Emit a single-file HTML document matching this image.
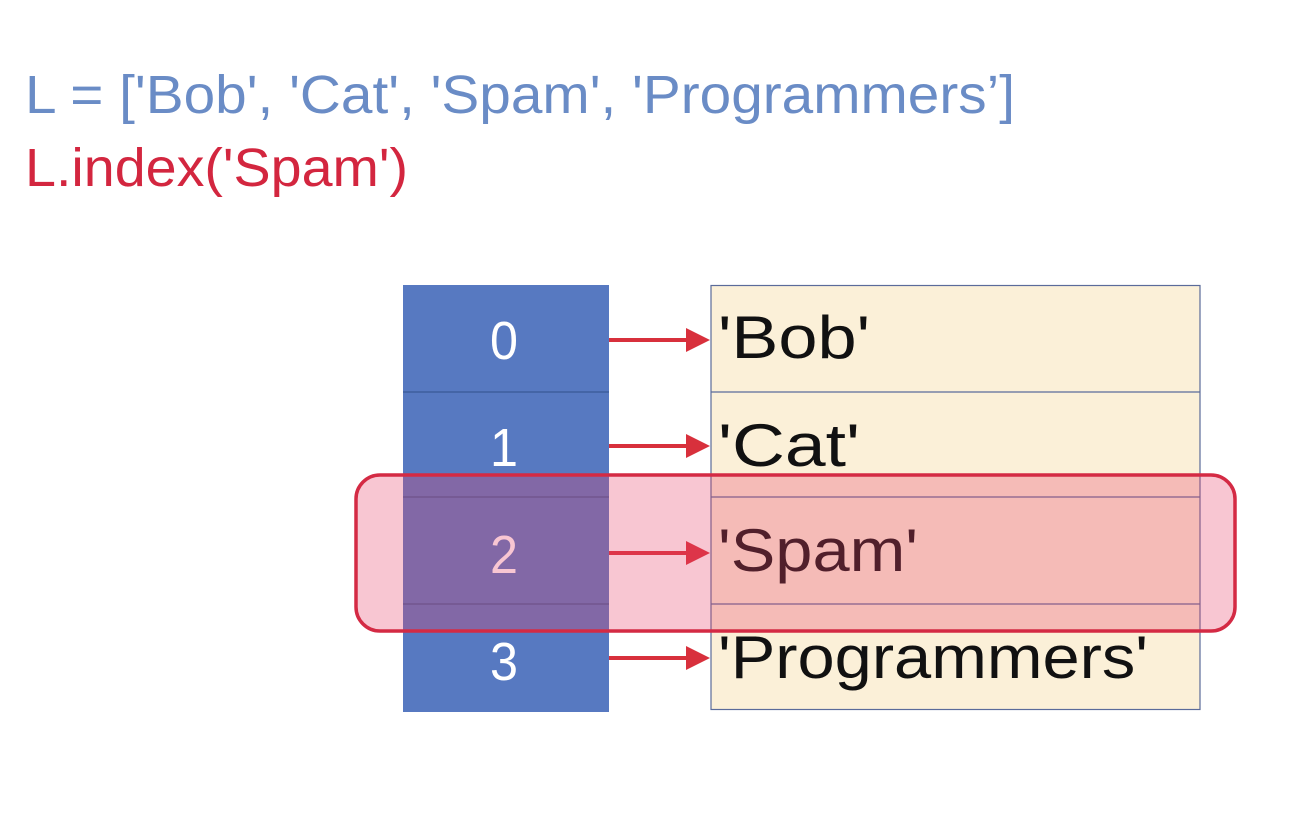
<!DOCTYPE html>
<html><head><style>html,body{margin:0;padding:0;background:#fff;}svg{display:block}</style></head>
<body>
<svg width="1306" height="836" viewBox="0 0 1306 836" xmlns="http://www.w3.org/2000/svg" font-family="Liberation Sans, sans-serif">
<rect width="1306" height="836" fill="#fff"/>
<text x="25" y="113" font-size="54" fill="#6a8cc6" textLength="990" lengthAdjust="spacingAndGlyphs">L = ['Bob', 'Cat', 'Spam', 'Programmers’]</text>
<text x="25" y="186" font-size="54" fill="#d3263f" textLength="383" lengthAdjust="spacingAndGlyphs">L.index('Spam')</text>
<rect x="403" y="285" width="206" height="427" fill="#5779c1"/>
<g stroke="#3f5f9e" stroke-width="1.5">
<line x1="403" y1="392" x2="609" y2="392"/><line x1="403" y1="497" x2="609" y2="497"/><line x1="403" y1="604" x2="609" y2="604"/>
</g>
<rect x="711" y="285.5" width="489" height="424" fill="#fbf0d8" stroke="#5a6b9a" stroke-width="1.2"/>
<g stroke="#5a6b9a" stroke-width="1.2">
<line x1="711" y1="392" x2="1200" y2="392"/><line x1="711" y1="497" x2="1200" y2="497"/><line x1="711" y1="604" x2="1200" y2="604"/>
</g>
<g fill="#fff" font-size="54" text-anchor="middle">
<text x="504" y="359" textLength="28" lengthAdjust="spacingAndGlyphs">0</text><text x="504" y="466" textLength="28" lengthAdjust="spacingAndGlyphs">1</text><text x="504" y="573" textLength="28" lengthAdjust="spacingAndGlyphs">2</text><text x="504" y="680" textLength="28" lengthAdjust="spacingAndGlyphs">3</text>
</g>
<g fill="#111" font-size="60">
<text x="718" y="358" textLength="152" lengthAdjust="spacingAndGlyphs">'Bob'</text>
<text x="718" y="466" textLength="142" lengthAdjust="spacingAndGlyphs">'Cat'</text>
<text x="718" y="571" textLength="200" lengthAdjust="spacingAndGlyphs">'Spam'</text>
<text x="718" y="678" textLength="430" lengthAdjust="spacingAndGlyphs">'Programmers'</text>
</g>
<g stroke="#d8303c" stroke-width="4" fill="#d8303c">
<line x1="609" y1="340" x2="690" y2="340"/><polygon points="686,328 710,340 686,352" stroke="none"/>
<line x1="609" y1="446" x2="690" y2="446"/><polygon points="686,434 710,446 686,458" stroke="none"/>
<line x1="609" y1="553" x2="690" y2="553"/><polygon points="686,541 710,553 686,565" stroke="none"/>
<line x1="609" y1="658" x2="690" y2="658"/><polygon points="686,646 710,658 686,670" stroke="none"/>
</g>
<rect x="356" y="475" width="879" height="156" rx="24" fill="#e8426a" fill-opacity="0.3" stroke="#d42a44" stroke-width="3.5"/>
</svg>
</body></html>
